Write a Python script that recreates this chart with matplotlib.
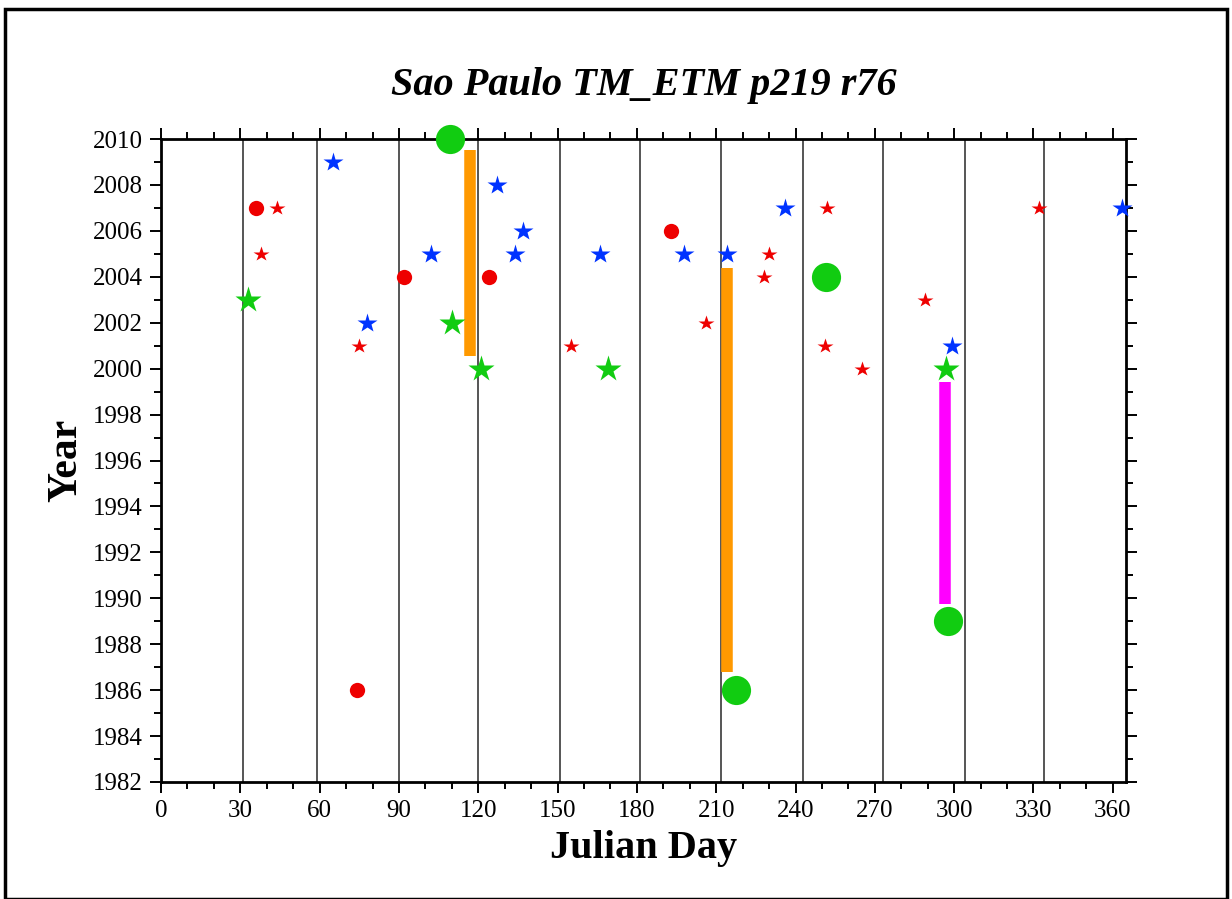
import numpy as np
import matplotlib.pyplot as plt
from matplotlib.patches import Rectangle

plt.rcParams['font.family'] = ['Liberation Serif', 'DejaVu Serif']

# month boundaries (day of year) used as vertical guide lines
month_days = [31, 59, 90, 120, 151, 181, 212, 243, 273, 304, 334]

# red circles
red_dot_day = [36, 74, 92, 124, 193]
red_dot_year = [2007, 1986, 2004, 2004, 2006]

# small red stars
red_star_day = [44, 38, 75, 155, 206, 230, 228, 252, 251, 265, 289, 332]
red_star_year = [2007, 2005, 2001, 2001, 2002, 2005, 2004, 2007, 2001, 2000, 2003, 2007]

# blue stars
blue_star_day = [65, 78, 102, 127, 137, 134, 166, 198, 214, 236, 299, 363.5]
blue_star_year = [2009, 2002, 2005, 2008, 2006, 2005, 2005, 2005, 2005, 2007, 2001, 2007]

# large green stars
green_star_day = [33, 110, 121, 169, 297]
green_star_year = [2003, 2002, 2000, 2000, 2000]

# large green circles
green_dot_day = [109.5, 217.5, 251.7, 297.7]
green_dot_year = [2010, 1986, 2004, 1989]

# vertical bars: day, start year, end year
bar_day = [117, 214, 296.7]
bar_y0 = [2000.55, 1986.8, 1989.75]
bar_y1 = [2009.5, 2004.4, 1999.4]
bar_color = ['#ff9900', '#ff9900', '#ff00ff']

fig = plt.figure(figsize=(12.32, 8.99), dpi=100)
ax = fig.add_axes([161/1232, 1-782/899, (1126-161)/1232, (782-139)/899])

for d in month_days:
    ax.axvline(d, color='#555555', lw=1.4, zorder=1)

ax.vlines(bar_day, bar_y0, bar_y1, colors=bar_color, lw=8.3, zorder=3)

ax.plot(red_star_day, red_star_year, '*', color='#ee0000', ms=11.5, mec='none',
        zorder=4, clip_on=False)
ax.plot(red_dot_day, red_dot_year, 'o', color='#ee0000', ms=11, mec='none',
        zorder=4, clip_on=False)
ax.plot(blue_star_day, blue_star_year, '*', color='#0033ff', ms=14.5, mec='none',
        zorder=4, clip_on=False)
ax.plot(green_star_day, green_star_year, '*', color='#11cc11', ms=19.5, mec='none',
        zorder=4, clip_on=False)
ax.plot(green_dot_day, green_dot_year, 'o', color='#11cc11', ms=21, mec='none',
        zorder=5, clip_on=False)

ax.set_xlim(0, 365)
ax.set_ylim(1982, 2010)
ax.set_xticks(np.arange(0, 361, 30))
ax.set_xticks(np.arange(0, 366, 10), minor=True)
ax.set_yticks(np.arange(1982, 2011, 2))
ax.set_yticks(np.arange(1982, 2011, 1), minor=True)

ax.tick_params(which='both', direction='out', top=True, right=True,
               width=1.4, labelsize=18)
ax.tick_params(which='major', length=8)
ax.tick_params(axis='y', which='major', pad=5)
ax.tick_params(axis='x', which='major', pad=5)
ax.tick_params(which='minor', length=5)
for s in ax.spines.values():
    s.set_linewidth(2)
    s.set_zorder(3)

ax.set_xlabel('Julian Day', fontsize=29, fontweight='bold', labelpad=6)
ax.set_ylabel('Year', fontsize=30, fontweight='bold')
ax.yaxis.set_label_coords(-0.078, 0.5)
ax.set_title('Sao Paulo TM_ETM p219 r76', fontsize=29, fontweight='bold',
             style='italic', pad=32)

# frame around the whole figure
fig.patches.append(Rectangle((5/1232, 0), 1222/1232, 1-9/899, transform=fig.transFigure,
                             fill=False, edgecolor='black', lw=2.5))

fig.savefig('out.png', dpi=100)
